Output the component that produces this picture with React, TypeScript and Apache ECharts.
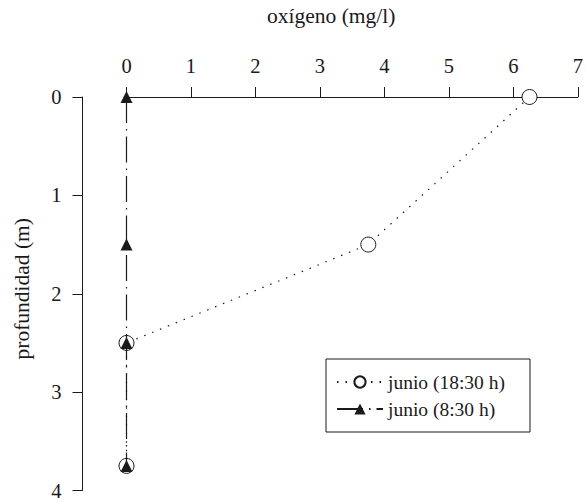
import React, { useEffect, useRef } from "react";
import * as echarts from "echarts";

const depth = [0, 1.5, 2.5, 3.75];
const oxygenEvening = [6.25, 3.75, 0, 0];
const oxygenMorning = [0, 0, 0, 0];
const seriesNames = ["junio (18:30 h)", "junio (8:30 h)"];

const FONT = "'Liberation Serif', 'DejaVu Serif', serif";
const INK = "#1a1a1a";

export default function App() {
  const ref = useRef<HTMLDivElement>(null);
  useEffect(() => {
    if (!ref.current) return;
    const chart = echarts.init(ref.current, undefined, { renderer: "svg" });
    chart.setOption({
      animation: false,
      backgroundColor: "#ffffff",
      textStyle: { fontFamily: FONT, color: INK },
      grid: { left: 126.5, top: 91, width: 454, height: 400 },
      xAxis: {
        type: "value",
        position: "top",
        min: 0,
        max: 7,
        interval: 1,
        name: "oxígeno (mg/l)",
        nameLocation: "middle",
        nameGap: 70,
        nameTextStyle: { fontFamily: FONT, fontSize: 21.5, color: INK, padding: [0, 42, 0, 0] },
        axisLine: { show: true, onZero: false, lineStyle: { color: INK, width: 1 } },
        axisTick: { show: true, length: 10, lineStyle: { color: INK } },
        axisLabel: { fontFamily: FONT, fontSize: 20.5, color: INK, margin: 21 },
        splitLine: { show: false },
      },
      yAxis: {
        type: "value",
        inverse: true,
        min: 0,
        max: 4,
        interval: 1,
        offset: 44,
        name: "profundidad (m)",
        nameLocation: "middle",
        nameGap: 50,
        nameTextStyle: { fontFamily: FONT, fontSize: 21.5, color: INK, padding: [0, 0, 0, 10] },
        axisLine: { show: true, onZero: false, lineStyle: { color: INK, width: 1 } },
        axisTick: { show: true, length: 10, lineStyle: { color: INK } },
        axisLabel: { fontFamily: FONT, fontSize: 20.5, color: INK, margin: 21 },
        splitLine: { show: false },
      },
      legend: {
        orient: "vertical",
        left: 326,
        top: 359,
        padding: [13, 25, 13, 10],
        itemGap: 7,
        itemWidth: 46,
        itemHeight: 14,
        borderColor: INK,
        borderWidth: 1,
        textStyle: { fontFamily: FONT, fontSize: 19.5, color: INK, lineHeight: 19 },
        data: seriesNames,
      },
      series: [
        {
          name: seriesNames[0],
          type: "line",
          data: oxygenEvening.map((x, i) => [x, depth[i]]),
          symbol: "circle",
          symbolSize: 15,
          itemStyle: { color: "#ffffff", borderColor: INK, borderWidth: 1 },
          lineStyle: { color: INK, width: 1.2, type: [1.5, 7] },
          z: 2,
        },
        {
          name: seriesNames[1],
          type: "line",
          data: oxygenMorning.map((x, i) => [x, depth[i]]),
          symbol: "triangle",
          symbolSize: 12,
          itemStyle: { color: INK, borderColor: INK, borderWidth: 0 },
          lineStyle: { color: INK, width: 1.2, type: [26, 6, 1.5, 6] },
          z: 3,
        },
      ],
    });
    return () => chart.dispose();
  }, []);
  return (
    <div
      ref={ref}
      style={{ position: "absolute", left: 0, top: 0, width: 586, height: 501 }}
    />
  );
}
